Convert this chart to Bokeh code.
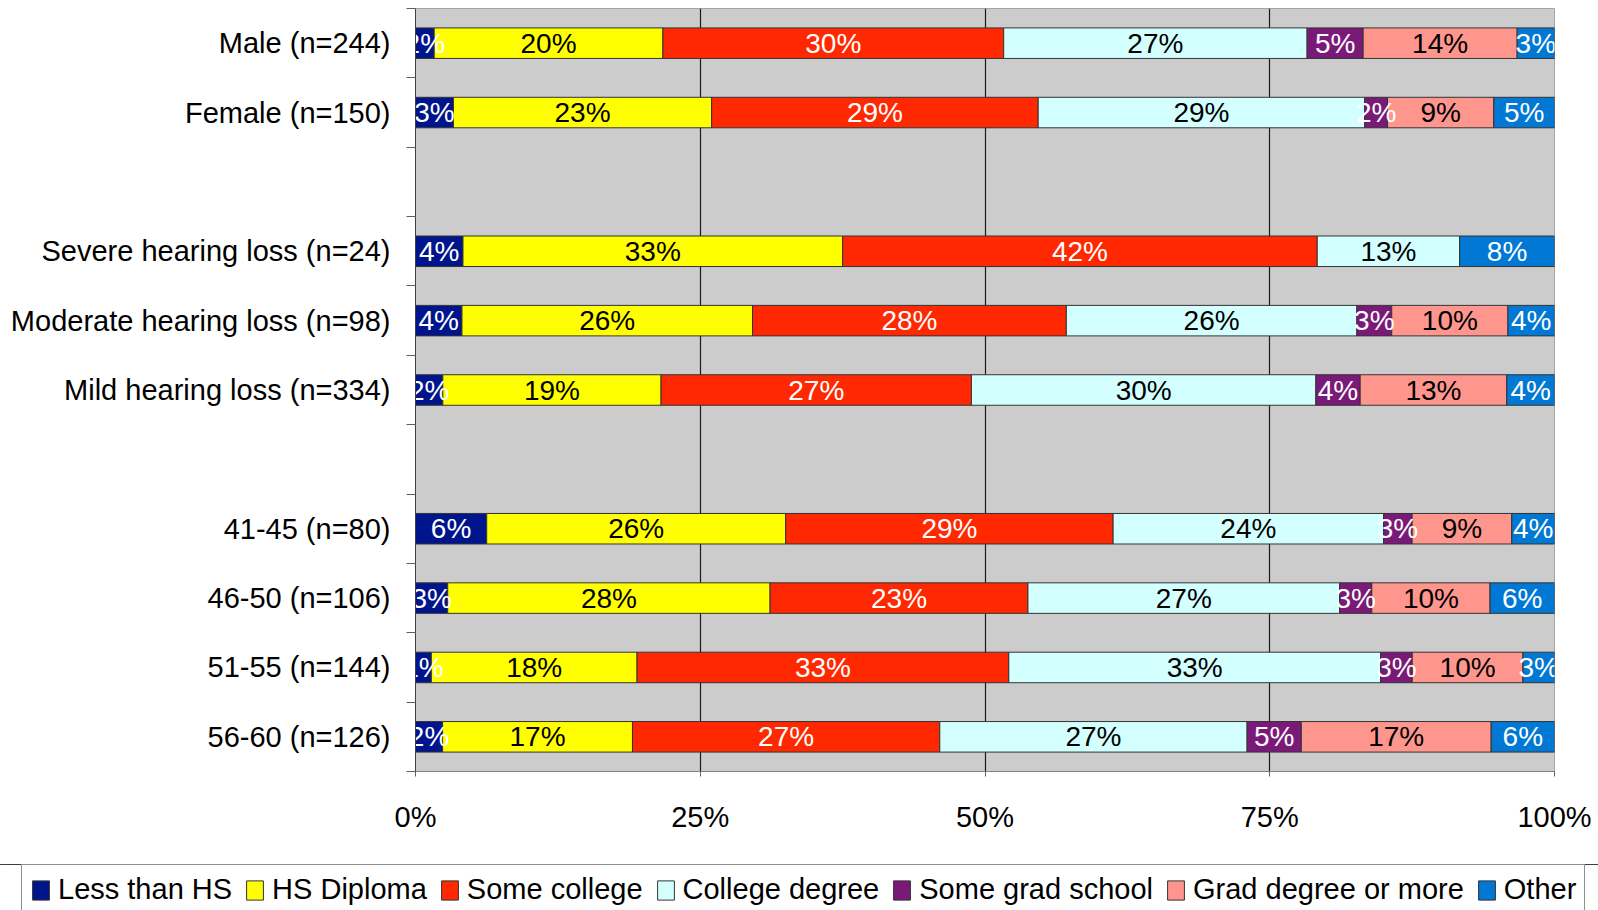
import math
from bokeh.plotting import figure
from bokeh.layouts import column, row
from bokeh.models import (Range1d, FixedTicker, Legend, LegendItem, ColumnDataSource)
from bokeh.core.properties import value
from bokeh.embed import file_html
from bokeh.resources import INLINE

# ---- data ----
categories = ["Male (n=244)", "Female (n=150)", "",
              "Severe hearing loss (n=24)", "Moderate hearing loss (n=98)", "Mild hearing loss (n=334)", " ",
              "41-45 (n=80)", "46-50 (n=106)", "51-55 (n=144)", "56-60 (n=126)"]
series_names = ["Less than HS", "HS Diploma", "Some college", "College degree",
                "Some grad school", "Grad degree or more", "Other"]
less_hs        = [1.64, 3.33, 4.17, 4.08, 2.40, 6.25, 2.83, 1.39, 2.38]
hs_diploma     = [20.08, 22.67, 33.33, 25.51, 19.16, 26.25, 28.30, 18.06, 16.67]
some_college   = [29.92, 28.67, 41.67, 27.55, 27.25, 28.75, 22.64, 32.64, 26.98]
college_degree = [26.64, 28.67, 12.50, 25.51, 30.24, 23.75, 27.36, 32.64, 26.98]
some_grad      = [4.92, 2.00, 0.0, 3.06, 3.89, 2.50, 2.83, 2.78, 4.76]
grad_degree    = [13.52, 9.33, 0.0, 10.20, 12.87, 8.75, 10.38, 9.72, 16.67]
other          = [3.28, 5.33, 8.33, 4.08, 4.19, 3.75, 5.66, 2.78, 5.56]
x_ticks = [0, 25, 50, 75, 100]

series = [less_hs, hs_diploma, some_college, college_degree, some_grad, grad_degree, other]
colors = ["#00148c", "#ffff00", "#ff2800", "#d4ffff", "#7a1a78", "#ff968e", "#0078d4"]
text_colors = ["white", "black", "white", "black", "white", "black", "white"]

FONT = "Liberation Sans"
n_slots = len(categories)
slots = [i for i, c in enumerate(categories) if c.strip()]
names = [categories[i] for i in slots]
ys = [n_slots - s - 0.5 for s in slots]

p = figure(width=1598, height=864, output_backend="svg", toolbar_location=None,
           x_range=Range1d(0, 100), y_range=Range1d(0, n_slots),
           min_border_left=415, min_border_right=44, min_border_top=8, min_border_bottom=93)
p.border_fill_color = "white"
p.background_fill_color = "#cccccc"
p.outline_line_color = "#a6a6a6"

cum = [0.0] * len(names)
tx, ty, tt, tc = [], [], [], []
for j, vals in enumerate(series):
    left = cum[:]
    right = [l + v for l, v in zip(left, vals)]
    src = ColumnDataSource(dict(y=[y for y, v in zip(ys, vals) if v > 0],
                                left=[l for l, v in zip(left, vals) if v > 0],
                                right=[r for r, v in zip(right, vals) if v > 0]))
    p.hbar(y="y", left="left", right="right", height=0.44, source=src,
           fill_color=colors[j], line_color="#333333", line_width=1)
    for y, l, v in zip(ys, left, vals):
        if v > 0:
            tx.append(l + v / 2)
            ty.append(y)
            tt.append(f"{math.floor(v + 0.5)}%")
            tc.append(text_colors[j])
    cum = right

tsrc = ColumnDataSource(dict(x=tx, y=ty, text=tt, color=tc))
p.text(x="x", y="y", text="text", source=tsrc, text_color="color",
       text_align="center", text_baseline="middle",
       text_font=value(FONT), text_font_size=value("28px"))

# grid
p.ygrid.grid_line_color = None
p.xgrid.ticker = FixedTicker(ticks=[t for t in x_ticks if 0 < t < 100])
p.xgrid.grid_line_color = "#1a1a1a"
p.xgrid.grid_line_width = 1.2

# x axis
p.xaxis.ticker = FixedTicker(ticks=x_ticks)
p.xaxis.major_label_overrides = {t: f"{t}%" for t in x_ticks}
p.xaxis.major_label_text_font = FONT
p.xaxis.major_label_text_font_size = "29px"
p.xaxis.major_label_text_color = "black"
p.xaxis.axis_line_color = "#808080"
p.xaxis.major_tick_line_color = "#606060"
p.xaxis.major_tick_in = 0
p.xaxis.major_tick_out = 5
p.xaxis.minor_tick_line_color = None
p.xaxis.major_label_standoff = 24

# y axis
p.yaxis.ticker = FixedTicker(ticks=ys, minor_ticks=list(range(n_slots + 1)))
p.yaxis.major_label_overrides = {y: n for y, n in zip(ys, names)}
p.yaxis.major_label_text_font = FONT
p.yaxis.major_label_text_font_size = "29px"
p.yaxis.major_label_text_color = "black"
p.yaxis.axis_line_color = "#404040"
p.yaxis.major_tick_line_color = None
p.yaxis.major_tick_in = 0
p.yaxis.major_tick_out = 0
p.yaxis.minor_tick_line_color = "#606060"
p.yaxis.minor_tick_in = 0
p.yaxis.minor_tick_out = 9
p.yaxis.major_label_standoff = 16

# ---- legend strip (separate figure holding only the legend keys) ----
lg = figure(width=1598, height=46, output_backend="svg", toolbar_location=None,
            x_axis_location=None, y_axis_location=None,
            min_border_left=0, min_border_right=0, min_border_top=0, min_border_bottom=0,
            x_range=Range1d(0, 1), y_range=Range1d(0, 1))
lg.outline_line_color = None
lg.grid.grid_line_color = None
lg.background_fill_color = "white"
lg.border_fill_color = "white"
swatches = []
off = lg.y_range.end + 1  # key renderers sit outside the strip's visible range
for j, name in enumerate(series_names):
    r = lg.hbar(y=[off], left=[0], right=[1], height=0.5,
                fill_color=colors[j], line_color="#333333", line_width=1)
    swatches.append(r)

legend = Legend(items=[LegendItem(label=n, renderers=[r]) for n, r in zip(series_names, swatches)],
                orientation="horizontal", location=(21, -5))
legend.label_text_font = FONT
legend.label_text_font_size = "29px"
legend.label_text_color = "black"
legend.glyph_width = 21
legend.glyph_height = 24
legend.label_standoff = 7
legend.spacing = 12
legend.padding = 8
legend.margin = 0
legend.border_line_color = "#222222"
legend.border_line_width = 1
legend.background_fill_color = "white"
legend.background_fill_alpha = 1
lg.add_layout(legend, "center")

layout = column(p, row(lg), spacing=0)
open("out.html", "w").write(file_html(layout, INLINE))
